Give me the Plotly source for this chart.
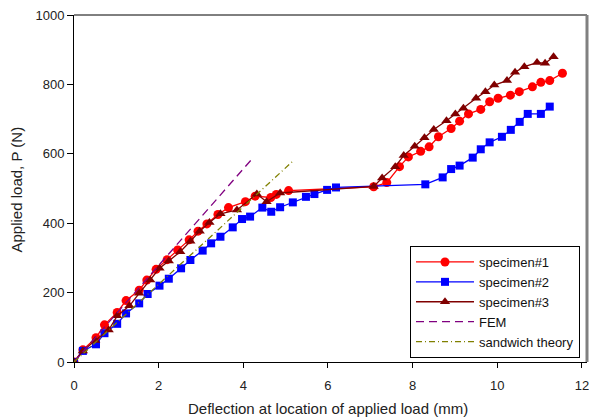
import plotly.graph_objects as go

# ---- data ----
s1_x = [0, 0.21, 0.52, 0.72, 1.02, 1.23, 1.54, 1.72, 1.94, 2.20, 2.45, 2.72, 2.93, 3.14, 3.40, 3.65,
        4.05, 4.28, 4.65, 4.78, 5.07, 7.08, 7.39, 7.69, 7.90, 8.19, 8.39, 8.61, 8.91, 9.11, 9.32,
        9.61, 9.82, 10.02, 10.31, 10.52, 10.83, 11.03, 11.24, 11.54]
s1_y = [0, 35, 70, 107, 143, 177, 207, 236, 267, 295, 323, 352, 377, 398, 425, 445,
        462, 478, 474, 483, 494, 505, 517, 563, 591, 607, 620, 649, 673, 694, 715,
        728, 750, 760, 769, 779, 793, 806, 811, 832]

s2_x = [0, 0.21, 0.52, 0.72, 1.02, 1.23, 1.54, 1.74, 2.02, 2.24, 2.53, 2.75, 3.04, 3.24, 3.46, 3.75,
        3.97, 4.16, 4.45, 4.66, 4.87, 5.17, 5.48, 5.68, 5.98, 6.19, 8.30, 8.71, 8.91, 9.11, 9.42,
        9.61, 9.82, 10.11, 10.32, 10.53, 10.72, 11.03, 11.24]
s2_y = [0, 32, 51, 83, 110, 140, 169, 196, 220, 240, 270, 294, 321, 342, 361, 388,
        412, 419, 445, 433, 446, 460, 476, 484, 496, 503, 512, 532, 556, 566, 589,
        613, 633, 649, 669, 692, 715, 715, 736]

s3_x = [0, 0.21, 0.50, 0.82, 1.02, 1.31, 1.54, 1.80, 2.02, 2.24, 2.51, 2.75, 2.97, 3.20, 3.46, 3.85,
        4.32, 4.55, 4.87, 7.08, 7.28, 7.59, 7.79, 8.05, 8.28, 8.50, 8.80, 9.01, 9.20, 9.50,
        9.72, 9.93, 10.23, 10.42, 10.64, 10.94, 11.13, 11.33]
s3_y = [0, 32, 62, 92, 133, 162, 198, 236, 270, 291, 318, 348, 377, 402, 427, 438,
        484, 462, 487, 506, 530, 563, 595, 622, 646, 670, 695, 715, 731, 760,
        779, 798, 811, 835, 851, 863, 861, 880]

fem_x = [0, 4.24]
fem_y = [0, 590]

sw_x = [0, 5.20]
sw_y = [0, 582]

x_ticks = [0, 2, 4, 6, 8, 10, 12]
y_ticks = [0, 200, 400, 600, 800, 1000]

FONT = "Arial, 'Liberation Sans', sans-serif"

fig = go.Figure()
fig.add_trace(go.Scatter(x=s1_x, y=s1_y, mode="lines+markers", name="specimen#1",
                         line=dict(color="#FF0000", width=1.3),
                         marker=dict(symbol="circle", size=9, color="#FF0000")))
fig.add_trace(go.Scatter(x=s2_x, y=s2_y, mode="lines+markers", name="specimen#2",
                         line=dict(color="#0000FF", width=1.3),
                         marker=dict(symbol="square", size=8, color="#0000FF")))
fig.add_trace(go.Scatter(x=s3_x, y=s3_y, mode="lines+markers", name="specimen#3",
                         line=dict(color="#800000", width=1.3),
                         marker=dict(symbol="triangle-up", size=9, color="#800000")))
fig.add_trace(go.Scatter(x=fem_x, y=fem_y, mode="lines", name="FEM",
                         line=dict(color="#800080", width=1.3, dash="8px,5px")))
fig.add_trace(go.Scatter(x=sw_x, y=sw_y, mode="lines", name="sandwich theory",
                         line=dict(color="#808000", width=1.3, dash="6px,3px,1px,3px")))

PW, PH = 513, 347  # plot area size in px


def px_x(px):
    return (px - 74) / PW


def px_y(py):
    return (362 - py) / PH


fig.update_layout(
    width=589, height=419,
    margin=dict(l=74, r=2, t=15, b=57, autoexpand=False),
    paper_bgcolor="white", plot_bgcolor="white",
    font=dict(family=FONT, size=13, color="#222222"),
    showlegend=True,
    legend=dict(x=px_x(410), y=px_y(246), xanchor="left", yanchor="top",
                bgcolor="white", bordercolor="black", borderwidth=1,
                font=dict(family=FONT, size=13, color="#111111"),
                tracegroupgap=0, itemwidth=58),
    xaxis=dict(range=[0, 12.12], tickvals=x_ticks, ticks="outside", ticklen=5,
               tickcolor="black", showline=True, linecolor="black", linewidth=1,
               showgrid=False, zeroline=False, ticklabelstandoff=6, automargin=False,
               ticklabeloverflow="allow",
               tickfont=dict(family=FONT, size=13, color="#222222")),
    yaxis=dict(range=[0, 1000], tickvals=y_ticks, ticks="outside", ticklen=6,
               tickcolor="black", showline=True, linecolor="black", linewidth=1,
               showgrid=False, zeroline=False, automargin=False,
               tickfont=dict(family=FONT, size=13, color="#222222")),
    annotations=[
        dict(text="Deflection at location of applied load (mm)", xref="paper", yref="paper",
             x=px_x(328), y=px_y(408), xanchor="center", yanchor="middle",
             showarrow=False, font=dict(family=FONT, size=15, color="#222222")),
        dict(text="Applied load, P (N)", xref="paper", yref="paper",
             x=px_x(15.5), y=px_y(190), xanchor="center", yanchor="middle", textangle=-90,
             showarrow=False, font=dict(family=FONT, size=15, color="#222222")),
    ],
    shapes=[
        dict(type="line", xref="paper", yref="paper", x0=0, x1=1, y0=1, y1=1,
             line=dict(color="black", width=1)),
        dict(type="line", xref="paper", yref="paper", x0=1, x1=1, y0=0, y1=1,
             line=dict(color="#808080", width=3)),
    ],
)

fig.write_html("out.html", config={"displayModeBar": False},
               post_script="document.body.style.margin='0';")
